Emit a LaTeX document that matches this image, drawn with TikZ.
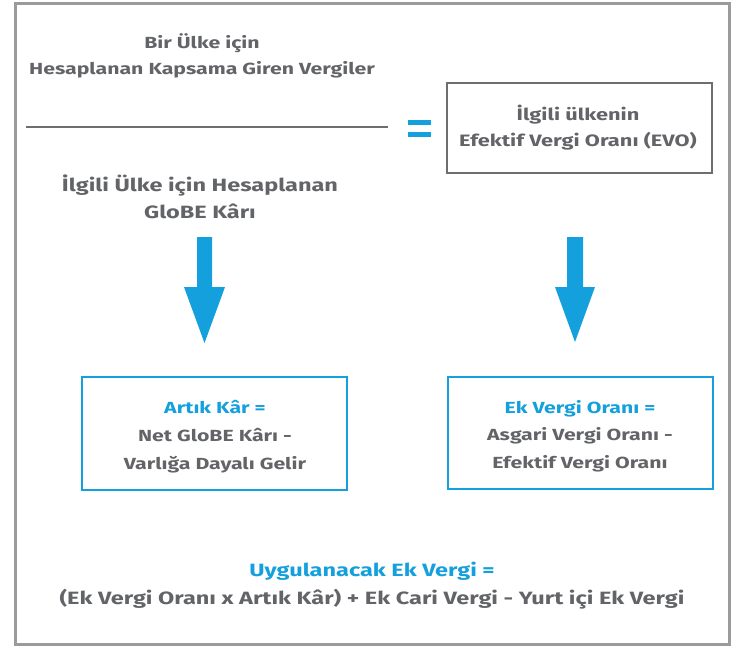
\documentclass[tikz,border=0pt]{standalone}
\usepackage{fontspec}
\setmainfont{Fira Sans}[FakeStretch=1.32]
\definecolor{txtgray}{RGB}{99,100,104}
\definecolor{tblue}{RGB}{20,160,220}
\definecolor{framegray}{RGB}{155,155,157}
\definecolor{boxgray}{RGB}{110,110,112}
\tikzset{
  lbl/.style 2 args={align=center, text=txtgray, font=\fontsize{#1}{#2}\selectfont\bfseries, inner sep=0pt},
  bluebox/.style={draw=tblue, line width=2.2pt},
  graybox/.style={draw=boxgray, line width=2.2pt},
  bigarrow/.style={fill=tblue, draw=none}
}
\begin{document}
\begin{tikzpicture}[x=1pt,y=-1pt]
\useasboundingbox (0,0) rectangle (736,648);
\draw[framegray, line width=3pt] (15,3) rectangle (729,644);
% fraction
\node[lbl={16.1}{25.5}] (num) at (202,56) {Bir Ülke için\\Hesaplanan Kapsama Giren Vergiler};
\coordinate (fl) at (26,127);
\coordinate (fr) at (388,127);
\draw[boxgray, line width=2pt] (fl) -- (fr);
\node[lbl={17.8}{27}] (den) at (200,197) {İlgili Ülke için Hesaplanan\\GloBE Kârı};
% equals
\fill[tblue] (408,120) rectangle (431,125);
\fill[tblue] (408,132) rectangle (431,137);
% EVO box
\draw[graybox] (447,83) rectangle (712,173);
\node[lbl={16.5}{26}] (evo) at (578,128) {İlgili ülkenin\\Efektif Vergi Oranı (EVO)};
% arrows
\fill[bigarrow] (197,237) -- (212,237) -- (212,287) -- (225,287) -- (204.5,343) -- (184,287) -- (197,287) -- cycle;
\fill[bigarrow] (567,237) -- (583,237) -- (583,287) -- (595,287) -- (575,342) -- (555,287) -- (567,287) -- cycle;
% left box
\draw[bluebox] (82,377) rectangle (347,490);
\node[lbl={16.1}{28}] (ak) at (215,437) {\textcolor{tblue}{Artık Kâr =}\\Net GloBE Kârı -\\Varlığa Dayalı Gelir};
% right box
\draw[bluebox] (448,377) rectangle (713,489);
\node[lbl={16.1}{27.5}] (evo2) at (580,436) {\textcolor{tblue}{Ek Vergi Oranı =}\\Asgari Vergi Oranı -\\Efektif Vergi Oranı};
% bottom
\node[lbl={17.8}{28}] (uev) at (372,586) {\textcolor{tblue}{Uygulanacak Ek Vergi =}\\(Ek Vergi Oranı x Artık Kâr) + Ek Cari Vergi - Yurt içi Ek Vergi};
\end{tikzpicture}
\end{document}
